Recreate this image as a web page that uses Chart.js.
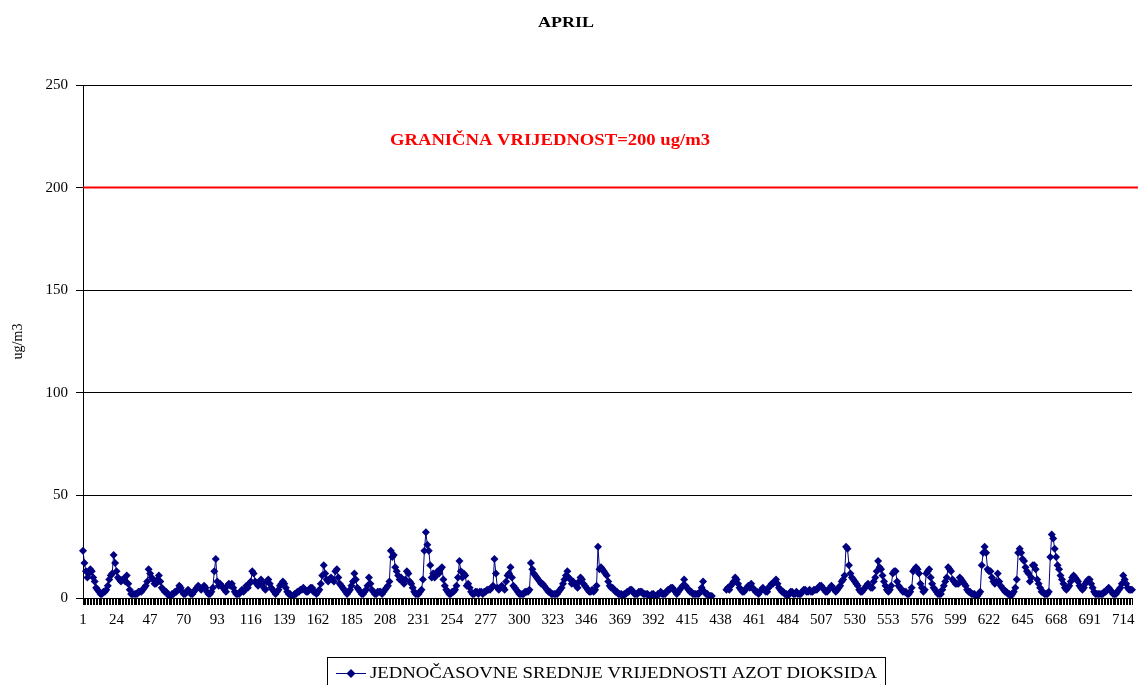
<!DOCTYPE html>
<html>
<head>
<meta charset="utf-8">
<script src="https://cdn.jsdelivr.net/npm/chart.js@4"></script>
<style>
  html, body { margin: 0; padding: 0; background: #fff; }
  #wrap { width: 1138px; height: 685px; }
</style>
</head>
<body>
<div id="wrap"><canvas id="aprilChart"></canvas></div>
<script>
    // hourly NO2 means for April, one row per day (24 h), null = no measurement
    const no2Values = [
        23,17,13,10,12,14,13,10,8,5,4,3,2,2,3,3,4,6,9,11,12,21,17,13,
        10,9,8,9,9,8,11,7,4,2,2,2,2,2,3,3,3,4,5,6,8,14,12,10,
        9,7,7,9,11,8,5,4,3,3,2,1,1,2,2,3,3,4,6,5,3,2,2,3,
        4,3,2,2,3,4,5,6,5,4,5,6,5,3,2,2,3,5,13,19,8,6,7,6,
        5,4,3,6,7,6,7,5,3,2,2,2,3,4,3,4,6,5,7,8,13,12,8,7,
        6,8,9,7,5,4,8,9,7,5,4,3,2,3,4,6,7,8,7,5,3,2,2,1,
        1,2,2,3,3,4,4,5,4,3,3,4,5,5,3,3,2,3,4,7,11,16,12,9,
        8,9,10,9,8,13,14,10,7,6,5,4,3,2,3,4,6,8,12,9,5,4,3,2,
        2,3,4,6,10,7,4,3,2,2,3,3,3,2,3,4,5,6,8,23,20,21,15,13,
        11,9,10,8,7,9,13,12,8,7,5,3,2,2,2,3,4,9,23,32,26,23,16,10,
        12,10,11,13,12,14,15,9,6,4,3,2,2,3,3,4,6,10,18,13,10,12,11,6,
        7,5,3,2,2,3,3,2,3,3,2,3,3,4,4,4,5,6,19,12,5,4,5,6,
        5,4,8,11,12,15,10,6,5,4,3,2,2,2,2,3,3,3,4,17,14,12,11,10,
        9,8,7,7,6,5,4,3,3,2,2,2,2,2,3,4,5,7,9,11,13,10,9,7,
        8,7,6,5,8,10,9,7,6,5,4,3,3,4,3,4,6,25,14,15,14,13,12,11,
        8,6,5,5,4,3,3,2,2,2,1,2,2,3,3,4,4,3,2,2,2,3,3,3,
        2,2,2,2,1,1,2,2,1,1,2,2,3,2,2,2,3,4,4,5,5,4,3,2,
        3,4,5,6,9,6,5,4,3,3,2,2,2,2,2,3,5,8,3,2,2,1,1,1,
        null,null,null,null,null,null,null,null,null,4,5,4,6,7,8,10,9,7,5,4,3,3,4,5,
        6,5,7,5,4,3,3,2,3,4,5,4,3,3,5,6,7,7,8,9,7,5,4,3,
        3,2,2,1,2,3,3,2,2,3,2,2,2,3,4,4,3,3,4,3,3,4,4,4,
        5,6,6,5,4,3,3,4,5,6,5,4,3,4,5,6,8,9,11,25,24,16,12,10,
        9,8,7,6,4,3,3,4,5,6,7,6,5,5,8,10,13,18,15,14,11,8,6,4,
        3,4,6,12,13,13,8,6,5,4,3,3,3,2,2,3,5,13,14,15,14,12,7,5,
        3,4,12,13,14,10,7,5,4,3,2,2,2,4,6,8,10,15,14,13,9,8,7,7,
        7,10,9,8,7,6,4,3,3,2,2,2,1,1,2,3,16,22,25,22,14,13,13,10,
        8,7,8,12,8,6,5,4,3,3,2,2,1,2,3,5,9,22,24,22,19,18,15,13,
        12,8,10,16,16,14,9,7,5,3,3,2,2,2,3,20,31,29,24,20,16,14,11,9,
        7,5,4,5,6,8,10,11,10,9,8,6,5,4,5,7,8,9,9,7,5,3,2,2,
        2,2,2,2,3,3,4,5,4,3,2,2,2,3,4,5,7,11,9,7,5,4,4,4
    ];
    const hours = no2Values.map((v, i) => String(i + 1));
    const labelEvery = 23;
    const yTicks = [0, 50, 100, 150, 200, 250];
    const limitValue = 200;
    const limitText = 'GRANIČNA VRIJEDNOST=200 ug/m3';
    const seriesName = 'JEDNOČASOVNE SREDNJE VRIJEDNOSTI AZOT DIOKSIDA';
    const navy = '#000080';
    const serif = "'Liberation Serif', 'Times New Roman', serif";

    // the original text is a bit wider than Liberation Serif, stretch it to the same width
    function wideText(ctx, text, x, y, width) {
        const w = ctx.measureText(text).width;
        ctx.save();
        ctx.translate(x, y);
        ctx.scale(width / w, 1);
        ctx.fillText(text, 0, 0);
        ctx.restore();
    }

    const decorations = {
        id: 'decorations',
        afterDatasetsDraw(chart) {
            const ctx = chart.ctx;
            const area = chart.chartArea;
            const yPix = chart.scales.y.getPixelForValue(limitValue);
            ctx.save();
            ctx.textBaseline = 'middle';
            ctx.textAlign = 'left';
            // limit line
            ctx.strokeStyle = '#ff0000';
            ctx.lineWidth = 2;
            ctx.beginPath();
            ctx.moveTo(area.left, yPix);
            ctx.lineTo(chart.width, yPix);
            ctx.stroke();
            ctx.fillStyle = '#ff0000';
            ctx.font = 'bold 16px ' + serif;
            wideText(ctx, limitText, 390, 141, 320);
            // title
            ctx.fillStyle = '#000';
            ctx.font = 'bold 15px ' + serif;
            wideText(ctx, 'APRIL', 538, 23, 56);
            // legend box
            ctx.strokeStyle = '#000';
            ctx.lineWidth = 1;
            ctx.strokeRect(327.5, 657.5, 558, 40);
            ctx.strokeStyle = navy;
            ctx.beginPath();
            ctx.moveTo(336, 673.5);
            ctx.lineTo(366, 673.5);
            ctx.stroke();
            ctx.fillStyle = navy;
            ctx.beginPath();
            ctx.moveTo(351, 669);
            ctx.lineTo(355.5, 673.5);
            ctx.lineTo(351, 678);
            ctx.lineTo(346.5, 673.5);
            ctx.closePath();
            ctx.fill();
            ctx.fillStyle = '#000';
            ctx.font = '17px ' + serif;
            wideText(ctx, seriesName, 370, 674, 507);
            ctx.restore();
        }
    };

    new Chart(document.getElementById('aprilChart'), {
        type: 'line',
        data: {
            labels: hours,
            datasets: [{
                label: seriesName,
                data: no2Values,
                borderColor: navy,
                backgroundColor: navy,
                borderWidth: 1,
                pointStyle: 'rectRot',
                pointRadius: 4,
                pointBorderWidth: 0,
                spanGaps: false,
                tension: 0
            }]
        },
        options: {
            responsive: true,
            maintainAspectRatio: false,
            animation: false,
            layout: { padding: { top: 85, right: 2, bottom: 58, left: 0 } },
            plugins: {
                legend: { display: false },
                title: { display: false },
                tooltip: { enabled: false }
            },
            scales: {
                x: {
                    offset: false,
                    afterFit: s => { s.height = 29; },
                    border: { color: '#000', width: 1 },
                    grid: { drawOnChartArea: false, drawTicks: true, tickLength: 7, color: '#000' },
                    ticks: {
                        autoSkip: false,
                        maxRotation: 0,
                        padding: 6,
                        color: '#000',
                        font: { family: serif, size: 15 },
                        callback: (val, idx) => idx % labelEvery === 0 ? hours[idx] : ''
                    }
                },
                y: {
                    min: 0,
                    max: 250,
                    afterFit: s => { s.width = 83; },
                    afterBuildTicks: s => { s.ticks = yTicks.map(v => ({ value: v })); },
                    border: { color: '#000', width: 1 },
                    grid: { color: '#000', tickLength: 7, drawTicks: true },
                    ticks: {
                        padding: 8,
                        color: '#000',
                        font: { family: serif, size: 15 }
                    },
                    title: {
                        display: true,
                        text: 'ug/m3',
                        color: '#000',
                        padding: { top: 10, bottom: 0 },
                        font: { family: serif, size: 14 }
                    }
                }
            }
        },
        plugins: [decorations]
    });
</script>
</body>
</html>
